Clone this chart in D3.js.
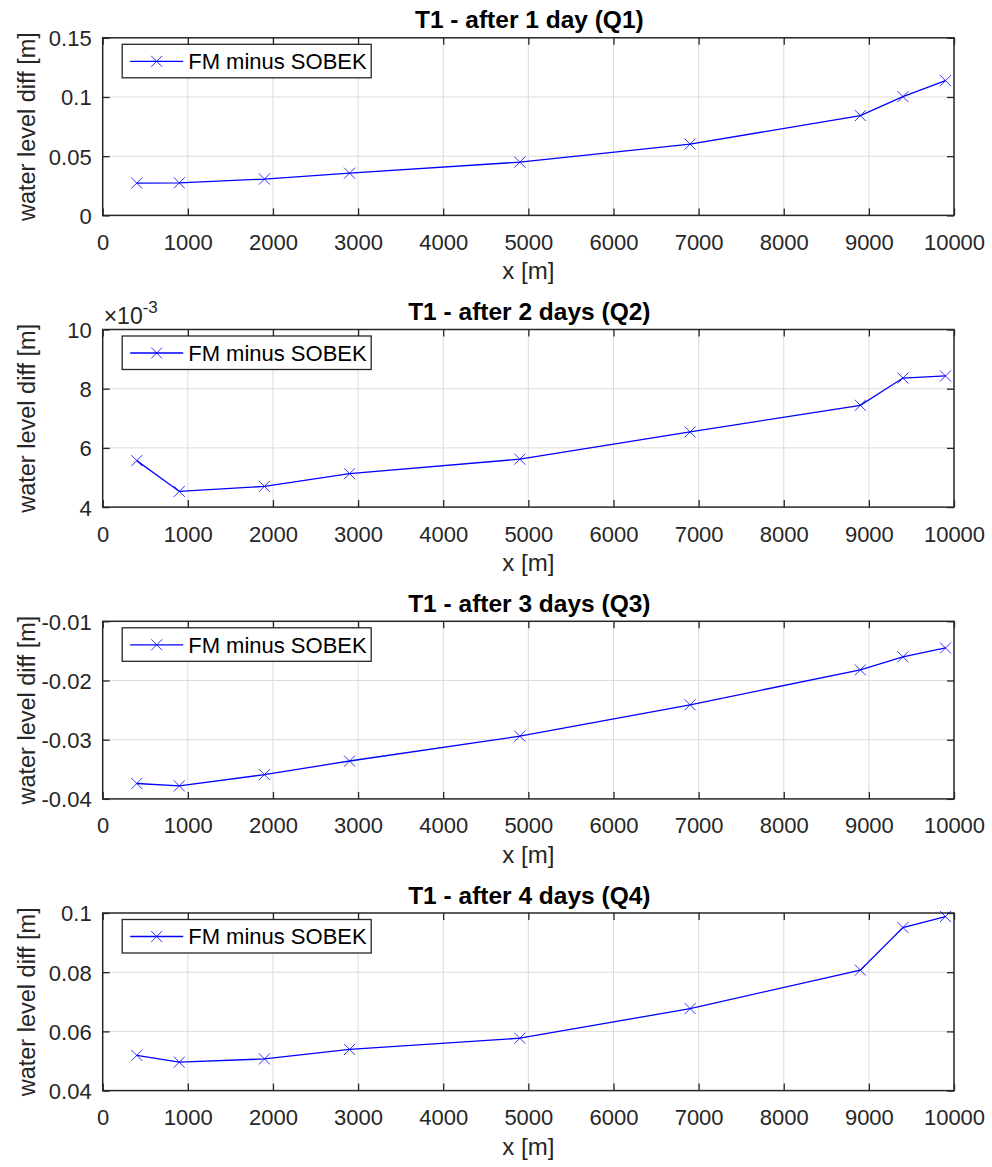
<!DOCTYPE html>
<html>
<head>
<meta charset="utf-8">
<script src="https://cdn.jsdelivr.net/npm/d3@7"></script>
<style>
  html, body { margin: 0; padding: 0; background: #fff; }
  svg { display: block; font-family: Arial, "Liberation Sans", Helvetica, sans-serif; }
</style>
</head>
<body>
<svg id="chart" width="992" height="1167"></svg>
<script>
// ---- data ----
const xPositions = [400, 900, 1900, 2900, 4900, 6900, 8900, 9400, 9900];
const q1Diff = [0.0273, 0.0275, 0.0307, 0.0357, 0.0450, 0.0602, 0.0843, 0.1003, 0.1138];
const q2Diff = [0.00557, 0.00453, 0.00470, 0.00513, 0.00562, 0.00654, 0.00744, 0.00836, 0.00843];
const q3Diff = [-0.0374, -0.0378, -0.0359, -0.0336, -0.0294, -0.0241, -0.0182, -0.0160, -0.0145];
const q4Diff = [0.0519, 0.0496, 0.0507, 0.0539, 0.0577, 0.0677, 0.0807, 0.0951, 0.0988];

const titles = ["T1 - after 1 day (Q1)", "T1 - after 2 days (Q2)", "T1 - after 3 days (Q3)", "T1 - after 4 days (Q4)"];
const xTicks = [0, 1000, 2000, 3000, 4000, 5000, 6000, 7000, 8000, 9000, 10000];
const yTicks1 = [0, 0.05, 0.1, 0.15];
const yTicks2 = [0.004, 0.006, 0.008, 0.010];
const yTicks3 = [-0.04, -0.03, -0.02, -0.01];
const yTicks4 = [0.04, 0.06, 0.08, 0.1];
const yTickLabels1 = ["0", "0.05", "0.1", "0.15"];
const yTickLabels2 = ["4", "6", "8", "10"];
const yTickLabels3 = ["-0.04", "-0.03", "-0.02", "-0.01"];
const yTickLabels4 = ["0.04", "0.06", "0.08", "0.1"];
const legendLabel = "FM minus SOBEK";
const xLabel = "x [m]";
const yLabel = "water level diff [m]";

const panels = [
  { title: titles[0], values: q1Diff, ticks: yTicks1, labels: yTickLabels1, exp: null },
  { title: titles[1], values: q2Diff, ticks: yTicks2, labels: yTickLabels2, exp: "-3" },
  { title: titles[2], values: q3Diff, ticks: yTicks3, labels: yTickLabels3, exp: null },
  { title: titles[3], values: q4Diff, ticks: yTicks4, labels: yTickLabels4, exp: null }
];

// ---- layout ----
const left = 102.7, width = 851.3, height = 177.6;
const tops = [37.8, 329.5, 621.3, 913.0];
const axisColor = "#262626";
const gridColor = "#dcdcdc";
const lineColor = "#0000ff";
const tickLen = 7;

const svg = d3.select("#chart");

const x = d3.scaleLinear().domain([0, 10000]).range([left, left + width]);

panels.forEach((p, i) => {
  const top = tops[i], bottom = top + height;
  const y = d3.scaleLinear().domain([p.ticks[0], p.ticks[p.ticks.length - 1]]).range([bottom, top]);
  const g = svg.append("g");

  // grid
  g.append("g").selectAll("line.gx").data(xTicks.slice(1, -1)).join("line")
    .attr("x1", d => x(d)).attr("x2", d => x(d)).attr("y1", top).attr("y2", bottom)
    .attr("stroke", gridColor).attr("stroke-width", 1);
  g.append("g").selectAll("line.gy").data(p.ticks.slice(1, -1)).join("line")
    .attr("x1", left).attr("x2", left + width).attr("y1", d => y(d)).attr("y2", d => y(d))
    .attr("stroke", gridColor).attr("stroke-width", 1);

  // axes via d3 (ticks inward)
  const xAxisB = d3.axisBottom(x).tickValues(xTicks).tickSize(-tickLen).tickPadding(12).tickFormat(d3.format("d"));
  const xAxisT = d3.axisTop(x).tickValues(xTicks).tickSize(-tickLen).tickFormat("");
  const yAxisL = d3.axisLeft(y).tickValues(p.ticks).tickSize(-tickLen).tickPadding(10).tickFormat((d, k) => p.labels[k]);
  const yAxisR = d3.axisRight(y).tickValues(p.ticks).tickSize(-tickLen).tickFormat("");

  const styleAxis = sel => {
    sel.select(".domain").remove();
    sel.selectAll(".tick line").attr("stroke", axisColor).attr("stroke-width", 1.3);
    sel.selectAll(".tick text").attr("fill", axisColor).attr("font-size", 22);
  };
  g.append("g").attr("transform", `translate(0,${bottom})`).call(xAxisB).call(styleAxis)
    .selectAll(".tick text").attr("dy", "0").attr("y", 34.5);
  g.append("g").attr("transform", `translate(0,${top})`).call(xAxisT).call(styleAxis);
  g.append("g").attr("transform", `translate(${left},0)`).call(yAxisL).call(styleAxis)
    .selectAll(".tick text").attr("x", -11).attr("dy", "0.36em");
  g.append("g").attr("transform", `translate(${left + width},0)`).call(yAxisR).call(styleAxis);

  // box
  g.append("rect").attr("x", left).attr("y", top).attr("width", width).attr("height", height)
    .attr("fill", "none").attr("stroke", axisColor).attr("stroke-width", 1.5);

  // data line
  const pts = xPositions.map((xv, k) => [xv, p.values[k]]);
  g.append("path").datum(pts)
    .attr("d", d3.line().x(d => x(d[0])).y(d => y(d[1])))
    .attr("fill", "none").attr("stroke", lineColor).attr("stroke-width", 1.3);
  const ms = 5.5;
  g.append("g").selectAll("path.m").data(pts).join("path")
    .attr("d", d => {
      const cx = x(d[0]), cy = y(d[1]);
      return `M${cx - ms},${cy - ms}L${cx + ms},${cy + ms}M${cx - ms},${cy + ms}L${cx + ms},${cy - ms}`;
    })
    .attr("stroke", lineColor).attr("stroke-width", 1).attr("stroke-opacity", 0.8).attr("fill", "none");

  // title
  g.append("text").attr("x", left + width / 2 + 1).attr("y", top - 9.5)
    .attr("text-anchor", "middle").attr("font-size", 24.5).attr("font-weight", "bold")
    .attr("fill", "#000").text(p.title);

  // x label
  g.append("text").attr("x", left + width / 2).attr("y", bottom + 64)
    .attr("text-anchor", "middle").attr("font-size", 24).attr("fill", axisColor).text(xLabel);

  // y label
  g.append("text").attr("transform", `translate(35,${(top + bottom) / 2}) rotate(-90)`)
    .attr("text-anchor", "middle").attr("font-size", 23.5).attr("fill", axisColor).text(yLabel);

  // exponent
  if (p.exp) {
    const t = g.append("text").attr("x", left + 1).attr("y", top - 6)
      .attr("font-size", 23).attr("fill", axisColor);
    t.append("tspan").text("\u00d710");
    t.append("tspan").attr("font-size", 17).attr("dy", -11).text(p.exp);
  }

  // legend
  const lg = g.append("g").attr("transform", `translate(${left + 19.5},${top + 6.5})`);
  lg.append("rect").attr("width", 249).attr("height", 33.5)
    .attr("fill", "#fff").attr("stroke", axisColor).attr("stroke-width", 1.3);
  lg.append("line").attr("x1", 8).attr("x2", 61).attr("y1", 17).attr("y2", 17)
    .attr("stroke", lineColor).attr("stroke-width", 1.3);
  lg.append("path").attr("d", `M${34.5 - ms},${17 - ms}L${34.5 + ms},${17 + ms}M${34.5 - ms},${17 + ms}L${34.5 + ms},${17 - ms}`)
    .attr("stroke", lineColor).attr("stroke-width", 1).attr("stroke-opacity", 0.8);
  lg.append("text").attr("x", 66).attr("y", 17).attr("dy", "0.36em")
    .attr("font-size", 22).attr("fill", "#000").text(legendLabel);
});
</script>
</body>
</html>
